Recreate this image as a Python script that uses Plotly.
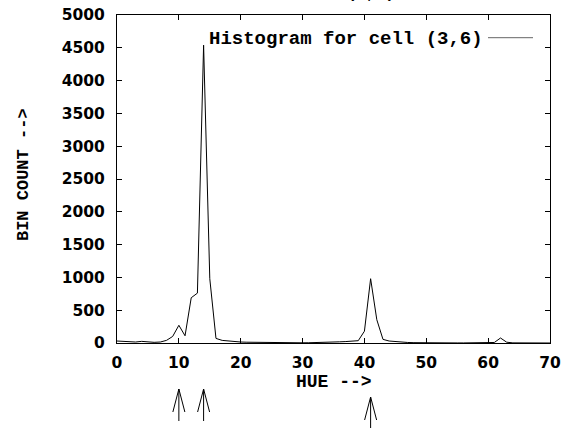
import plotly.graph_objects as go

# Hue histogram for one image cell
hue = list(range(0, 71))
bin_count = [
    30, 25, 20, 15, 25, 15, 10, 15, 40, 100,      # 0-9
    270, 110, 690, 760, 4540, 980, 70, 40, 30, 20,  # 10-19
    15, 12, 10, 8, 6, 5, 4, 4, 3, 3,              # 20-29
    3, 4, 5, 6, 8, 12, 18, 22, 28, 35,            # 30-39
    180, 980, 355, 55, 30, 20, 12, 8, 5, 3,       # 40-49
    2, 2, 2, 1, 1, 1, 1, 1, 2, 2,                 # 50-59
    2, 8, 76, 12, 2, 1, 0, 0, 0, 0,               # 60-69
    0,                                            # 70
]
peak_hues = [10, 14, 41]
x_ticks = list(range(0, 71, 10))
y_ticks = list(range(0, 5001, 500))

title_text = "CELL (3,6)"
legend_label = "Histogram for cell (3,6)"
x_title = "HUE -->"
y_title = "BIN COUNT -->"

MONO = "Liberation Mono"
SANS = "DejaVu Sans"

fig = go.Figure()
fig.add_trace(go.Scatter(
    x=hue, y=bin_count, mode="lines",
    line=dict(color="black", width=1),
    showlegend=False, hoverinfo="skip",
))

axis_common = dict(
    showline=True, linecolor="black", linewidth=1, mirror="ticks",
    ticks="inside", ticklen=5, tickwidth=1, tickcolor="black",
    showgrid=False, zeroline=False, automargin=False,
    tickfont=dict(family=SANS, size=15.5, color="black", weight="bold"),
)

fig.update_xaxes(range=[0, 70], tickvals=x_ticks, ticklabelstandoff=5, **axis_common)
fig.update_yaxes(range=[0, 5000], tickvals=y_ticks, ticklabelstandoff=8, **axis_common)

annotations = [
    # y axis title
    dict(text=f"<b>{y_title}</b>", xref="paper", yref="paper",
         x=-0.217, y=1 - (175 - 15) / 328, textangle=-90, showarrow=False,
         xanchor="center", yanchor="middle",
         font=dict(family=MONO, size=17, color="black")),
    # x axis title
    dict(text=f"<b>{x_title}</b>", xref="paper", yref="paper",
         x=0.5, y=-0.12, showarrow=False,
         xanchor="center", yanchor="middle",
         font=dict(family=MONO, size=18, color="black")),
    # key label
    dict(text=f"<b>{legend_label}</b>", xref="paper", yref="paper",
         x=(485 - 117) / 433, y=1 - (39 - 15) / 328, showarrow=False,
         xanchor="right", yanchor="middle",
         font=dict(family=MONO, size=19, color="black")),
    # chart title (sits mostly above the page edge)
    dict(text=f"<b>{title_text}</b>", xref="paper", yref="paper",
         x=(397 - 117) / 433, y=1 + (15 - 5) / 328, showarrow=False,
         xanchor="right", yanchor="bottom",
         font=dict(family=MONO, size=16, color="black")),
]

shapes = [
    # key line sample
    dict(type="line", xref="paper", yref="paper",
         x0=(488 - 117) / 433, x1=(533 - 117) / 433,
         y0=1 - (37.7 - 15) / 328, y1=1 - (37.7 - 15) / 328,
         line=dict(color="#666666", width=1)),
]

# Open arrows below the axis pointing at the peak hues
arrow_drop = {10: 46, 14: 46, 41: 54}
for h in peak_hues:
    d = arrow_drop[h]
    path = (f"M -6 {-d - 23} L 0 {-d} L 6 {-d - 23} "
            f"M 0 {-d} L 0 {-d - 32}")
    shapes.append(dict(
        type="path", xref="x", yref="paper",
        xsizemode="pixel", ysizemode="pixel",
        xanchor=h, yanchor=0, path=path,
        line=dict(color="black", width=1),
    ))

fig.update_layout(
    width=567, height=428,
    margin=dict(l=117, r=17, t=15, b=85),
    paper_bgcolor="white", plot_bgcolor="white",
    annotations=annotations, shapes=shapes,
    showlegend=False,
)

fig.write_html("out.html")
